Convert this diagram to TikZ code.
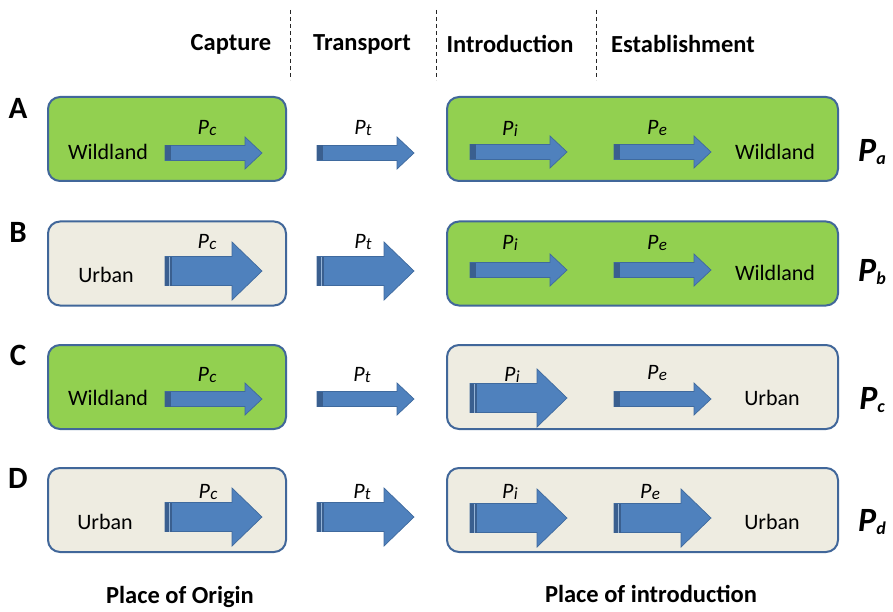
\documentclass[tikz,border=0pt]{standalone}
\usepackage{fontspec}
\setmainfont{Carlito}
\definecolor{grn}{HTML}{92D050}
\definecolor{beige}{HTML}{EEECE1}
\definecolor{boxline}{HTML}{41679A}
\definecolor{arrfill}{HTML}{4F81BD}
\definecolor{arrline}{HTML}{3F6A9E}
\definecolor{arrdark}{HTML}{3A5F8F}
\newcommand{\Plab}[1]{{\fontsize{22}{22}\selectfont\itshape P\kern0.3pt\raisebox{-1.5pt}{\fontsize{17}{17}\selectfont #1}}}
\newcommand{\Pbig}[1]{{\fontsize{34}{34}\selectfont\bfseries\itshape P\raisebox{-3pt}{\fontsize{18}{18}\selectfont #1}}}
\tikzset{
  leftbox/.style={draw=boxline, line width=2pt, rounded corners=12pt, minimum width=238pt, minimum height=84pt, inner sep=0pt},
  rightbox/.style={draw=boxline, line width=2pt, rounded corners=12pt, minimum width=391pt, minimum height=84pt, inner sep=0pt},
  wild/.style={fill=grn},
  urb/.style={fill=beige},
  place/.style={font=\fontsize{22}{22}\selectfont, inner sep=0pt},
  plab/.style={inner sep=0pt},
  head/.style={font=\fontsize{24.5}{24.5}\selectfont\bfseries, inner sep=0pt},
  rowlab/.style={font=\fontsize{31}{31}\selectfont\bfseries, inner sep=0pt},
  sep/.style={draw=black!85, line width=1pt, dash pattern=on 4pt off 3pt},
  thinarr/.pic={
    \filldraw[fill=arrfill, draw=arrline, line width=0.7pt] (0,-7.5) -- (80,-7.5) -- (80,-16) -- (97,0) -- (80,16) -- (80,7.5) -- (0,7.5) -- cycle;
    \fill[arrdark] (0,-7.5) rectangle (6,7.5);
  },
  thickarr/.pic={
    \filldraw[fill=arrfill, draw=arrline, line width=0.7pt] (0,-14.5) -- (67,-14.5) -- (67,-29) -- (97,0) -- (67,29) -- (67,14.5) -- (0,14.5) -- cycle;
    \fill[arrdark] (0,-14.5) rectangle (7,14.5);
    \draw[arrfill!60!white, line width=0.6pt] (4,-14.5) -- (4,14.5);
  }
}
\begin{document}
\begin{tikzpicture}[x=1pt, y=-1pt]
\useasboundingbox (0,0) rectangle (893,612);

% header
\node[head] (hcap) at (231,44) {Capture};
\node[head] (htra) at (362,44) {Transport};
\node[head] (hint) at (510,44) {Introduction};
\node[head] (hest) at (683,44) {Establishment};
\coordinate (d1t) at (290,10); \coordinate (d1b) at (290,80);
\coordinate (d2t) at (436,10); \coordinate (d2b) at (436,80);
\coordinate (d3t) at (596,10); \coordinate (d3b) at (596,80);
\draw[sep] (d1t) -- (d1b);
\draw[sep] (d2t) -- (d2b);
\draw[sep] (d3t) -- (d3b);

% row labels
\node[rowlab] (la) at (18,108) {A};
\node[rowlab] (lb) at (18,232) {B};
\node[rowlab] (lc) at (18,355) {C};
\node[rowlab] (ld) at (18,478) {D};

% boxes
\node[leftbox, wild] (oa) at (167,139) {};
\node[rightbox, wild] (ia) at (642.5,139) {};
\node[leftbox, urb] (ob) at (167,263.5) {};
\node[rightbox, wild] (ib) at (642.5,263.5) {};
\node[leftbox, wild] (oc) at (167,387) {};
\node[rightbox, urb] (ic) at (642.5,387) {};
\node[leftbox, urb] (od) at (167,510) {};
\node[rightbox, urb] (id) at (642.5,510) {};

% row A
\pic at (165,153) {thinarr};
\pic at (317,153) {thinarr};
\pic at (470,152) {thinarr};
\pic at (614,152) {thinarr};
\node[place] (wa1) at (108,152) {Wildland};
\node[place] (wa2) at (775,152) {Wildland};
\node[plab] (pca) at (207,128) {\Plab{c}};
\node[plab] (pta) at (363,128) {\Plab{t}};
\node[plab] (pia) at (510,129) {\Plab{i}};
\node[plab] (pea) at (657,128) {\Plab{e}};
\node[plab] (pa) at (872,152) {\Pbig{a}};

% row B
\pic at (165,271) {thickarr};
\pic at (317,271) {thickarr};
\pic at (470,270) {thinarr};
\pic at (614,270) {thinarr};
\node[place] (ub1) at (106,275) {Urban};
\node[place] (wb2) at (775,273) {Wildland};
\node[plab] (pcb) at (207,242) {\Plab{c}};
\node[plab] (ptb) at (363,242) {\Plab{t}};
\node[plab] (pib) at (510,243) {\Plab{i}};
\node[plab] (peb) at (657,243) {\Plab{e}};
\node[plab] (pb) at (872,272) {\Pbig{b}};

% row C
\pic at (165,399) {thinarr};
\pic at (317,399) {thinarr};
\pic at (470,398) {thickarr};
\pic at (614,399) {thinarr};
\node[place] (wc1) at (108,398) {Wildland};
\node[place] (uc2) at (772,398) {Urban};
\node[plab] (pcc) at (207,375) {\Plab{c}};
\node[plab] (ptc) at (362,375) {\Plab{t}};
\node[plab] (pic) at (512,375) {\Plab{i}};
\node[plab] (pec) at (657,373) {\Plab{e}};
\node[plab] (pcx) at (872,400) {\Pbig{c}};

% row D
\pic at (165,517) {thickarr};
\pic at (317,517) {thickarr};
\pic at (470,518) {thickarr};
\pic at (614,518) {thickarr};
\node[place] (ud1) at (105,522) {Urban};
\node[place] (ud2) at (772,522) {Urban};
\node[plab] (pcd) at (208,492) {\Plab{c}};
\node[plab] (ptd) at (362,492) {\Plab{t}};
\node[plab] (pid) at (510,492) {\Plab{i}};
\node[plab] (ped) at (650,492) {\Plab{e}};
\node[plab] (pd) at (872,522) {\Pbig{d}};

% bottom
\node[head] (porig) at (180,597) {Place of Origin};
\node[head] (pintr) at (651,594) {Place of introduction};
\end{tikzpicture}
\end{document}
